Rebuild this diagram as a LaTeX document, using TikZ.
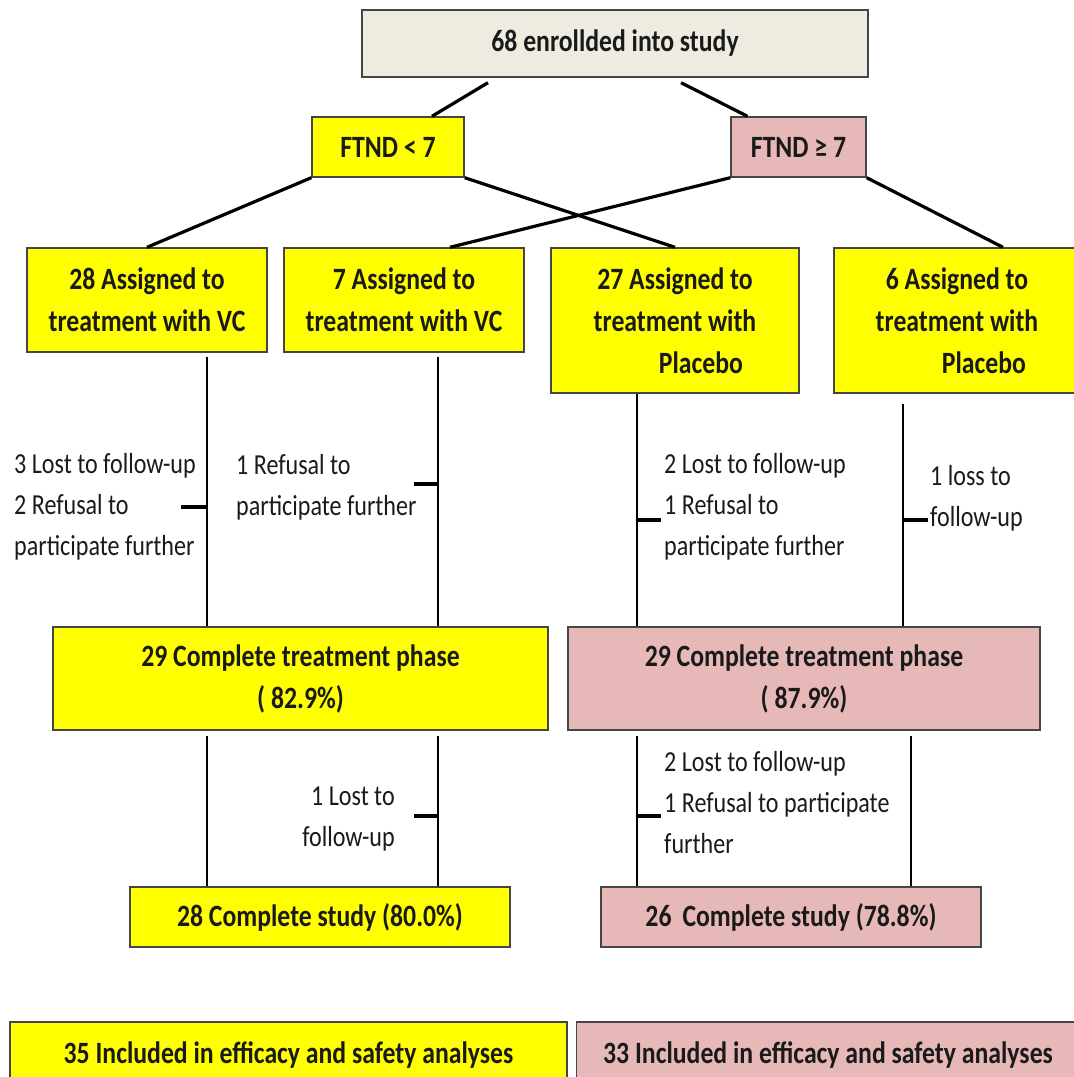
\documentclass[tikz,border=0pt]{standalone}
\usepackage{fontspec}
\setmainfont{Carlito}[FakeStretch=0.83]
\usepackage{tikz}
\usetikzlibrary{positioning}
\definecolor{vcyellow}{HTML}{FFFF00}
\definecolor{plpink}{HTML}{E6B9B8}
\definecolor{enrolgray}{HTML}{EEECE1}
\definecolor{edgegray}{HTML}{454545}
\definecolor{inkdark}{HTML}{1A1A1A}
\tikzset{
    stagebox/.style={
           rectangle,
           draw=edgegray, line width=1.4pt,
           inner sep=0pt,
           align=center,
           text=inkdark,
           font=\fontsize{31}{42}\selectfont\bfseries,
           },
    vcbox/.style={stagebox, fill=vcyellow},
    plbox/.style={stagebox, fill=plpink},
    note/.style={
           inner sep=0pt,
           text=inkdark,
           font=\fontsize{29}{41}\selectfont,
           },
    link/.style={draw=black, line width=3.2pt},
    trunk/.style={draw=black, line width=2.2pt},
    tick/.style={draw=black, line width=3.6pt},
}
\begin{document}
\begin{tikzpicture}[x=1pt,y=-1pt]

 % page frame, same proportions as the reference
 \path[fill=white,use as bounding box] (0,0) rectangle (1074,1077);

 % enrolment at the top
 \node[stagebox, fill=enrolgray,
  minimum width=506pt, minimum height=67pt] (enrolled) at (615,43.5)
  {68 enrollded into study};

 % the two FTND strata
 \node[vcbox,
  minimum width=152pt, minimum height=60pt,
  below of=enrolled,
  node distance=103.5pt,
  xshift=-227pt,
  anchor=center] (ftndlow) {FTND < 7};
 \node[plbox,
  minimum width=135pt, minimum height=60pt,
  right of=ftndlow,
  node distance=410.5pt,
  anchor=center] (ftndhigh) {FTND ≥ 7};

 % assignment boxes
 \node[vcbox,
  minimum width=240pt, minimum height=104pt,
  below of=ftndlow,
  node distance=153pt,
  xshift=-241pt,
  anchor=center] (vcA) {28 Assigned to\\treatment with VC};
 \node[vcbox,
  minimum width=240pt, minimum height=104pt,
  right of=vcA,
  node distance=257pt,
  anchor=center] (vcB) {7 Assigned to\\treatment with VC};
 \node[vcbox,
  minimum width=248pt, minimum height=145pt,
  right of=vcB,
  node distance=271pt,
  yshift=-20.5pt,
  anchor=center] (plA) {27 Assigned to\\treatment with\\\hspace*{52pt}Placebo};
 \node[vcbox,
  minimum width=246pt, minimum height=145pt,
  right of=plA,
  node distance=282pt,
  anchor=center] (plB) {6 Assigned to\\treatment with\\\hspace*{54pt}Placebo};

 % treatment phase
 \node[vcbox,
  minimum width=495pt, minimum height=103pt,
  below of=vcA,
  node distance=378.5pt,
  xshift=153.5pt,
  anchor=center] (phaseVC) {29 Complete treatment phase\\( 82.9\%)};
 \node[plbox,
  minimum width=472pt, minimum height=103pt,
  right of=phaseVC,
  node distance=503.5pt,
  anchor=center] (phasePL) {29 Complete treatment phase\\( 87.9\%)};

 % whole study
 \node[vcbox,
  minimum width=380pt, minimum height=60pt,
  below of=phaseVC,
  node distance=238.5pt,
  xshift=19.5pt,
  anchor=center] (studyVC) {28 Complete study (80.0\%)};
 \node[plbox,
  minimum width=380pt, minimum height=60pt,
  right of=studyVC,
  node distance=471pt,
  anchor=center] (studyPL) {26\, Complete study (78.8\%)};

 % analysis sets
 \node[vcbox,
  minimum width=557pt, minimum height=66pt,
  below of=studyVC,
  node distance=138pt,
  xshift=-31.5pt,
  anchor=center] (analysisVC) {35 Included in efficacy and safety analyses};
 \node[plbox,
  minimum width=503pt, minimum height=66pt,
  right of=analysisVC,
  node distance=539.5pt,
  anchor=center] (analysisPL) {33 Included in efficacy and safety analyses};

 % branching lines
 \path[link] ([xshift=-127pt,yshift=-5pt]enrolled.south) edge ([xshift=44pt]ftndlow.north)
 ([xshift=66pt,yshift=-5pt]enrolled.south) edge ([xshift=-51pt]ftndhigh.north)
 (ftndlow.south west)  edge (vcA.north)
 (ftndlow.south east)  edge (plA.north)
 (ftndhigh.south west) edge ([xshift=46pt]vcB.north)
 (ftndhigh.south east) edge ([xshift=46pt]plB.north);

 % vertical drop lines
 \coordinate (trunkA) at ([xshift=60pt,yshift=-4pt]vcA.south);
 \coordinate (trunkB) at ([xshift=34pt,yshift=-4pt]vcB.south);
 \coordinate (trunkC) at ([xshift=-38pt]plA.south);
 \coordinate (trunkD) at ([xshift=-54pt,yshift=-10pt]plB.south);
 \draw[trunk] (trunkA) -- (trunkA |- phaseVC.north);
 \draw[trunk] (trunkB) -- (trunkB |- phaseVC.north);
 \draw[trunk] (trunkC) -- (trunkC |- phasePL.north);
 \draw[trunk] (trunkD) -- (trunkD |- phasePL.north);

 \coordinate (trunkE) at ([xshift=-93.5pt,yshift=-5pt]phaseVC.south);
 \coordinate (trunkF) at ([xshift=137.5pt,yshift=-5pt]phaseVC.south);
 \coordinate (trunkG) at ([xshift=-167pt,yshift=-5pt]phasePL.south);
 \coordinate (trunkH) at ([xshift=107pt,yshift=-5pt]phasePL.south);
 \draw[trunk] (trunkE) -- (trunkE |- studyVC.north);
 \draw[trunk] (trunkF) -- (trunkF |- studyVC.north);
 \draw[trunk] (trunkG) -- (trunkG |- studyPL.north);
 \draw[trunk] (trunkH) -- (trunkH |- studyPL.north);

 % side ticks for drop-outs
 \coordinate (tickA) at (trunkA |- 0,507);
 \coordinate (tickB) at (trunkB |- 0,484);
 \coordinate (tickC) at (trunkC |- 0,520);
 \coordinate (tickD) at (trunkD |- 0,520);
 \coordinate (tickF) at (trunkF |- 0,816);
 \coordinate (tickG) at (trunkG |- 0,816);
 \draw[tick] (tickA) -- ++(-26,0);
 \draw[tick] (tickB) -- ++(-24,0);
 \draw[tick] (tickC) -- ++(24,0);
 \draw[tick] (tickD) -- ++(25,0);
 \draw[tick] (tickF) -- ++(-24,0);
 \draw[tick] (tickG) -- ++(24,0);

 % drop-out notes
 \node[note, anchor=west, align=left] (lossA) at (14,507)
  {3 Lost to follow-up\\2 Refusal to\\participate further};
 \node[note, anchor=west, align=left] (lossB) at (236,487)
  {1 Refusal to\\participate further};
 \node[note, anchor=west, align=left] (lossC) at (664,507)
  {2 Lost to follow-up\\1 Refusal to\\participate further};
 \node[note, anchor=west, align=left] (lossD) at (930,498)
  {1 loss to\\follow-up};
 \node[note, anchor=east, align=right] (lossF) at (395,819)
  {1 Lost to\\follow-up};
 \node[note, anchor=west, align=left] (lossG) at (664,803)
  {2 Lost to follow-up\\1 Refusal to participate\\further};

\end{tikzpicture}
\end{document}
